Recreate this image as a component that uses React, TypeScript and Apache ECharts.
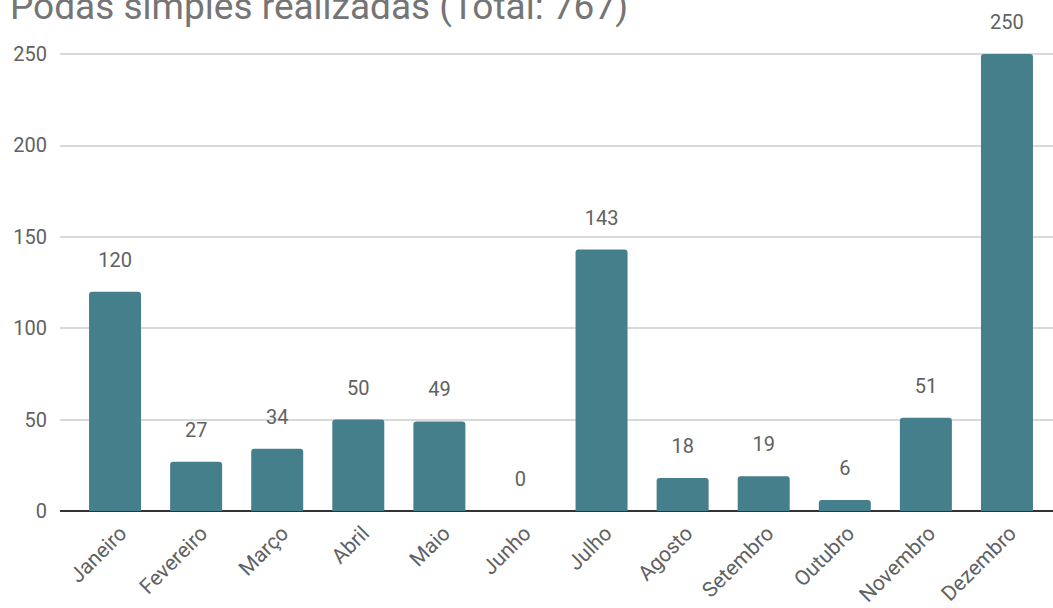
import React, { useEffect, useRef } from "react";
import * as echarts from "echarts";

const TITLE = "Podas simples realizadas (Total: 767)";
const months = [
  "Janeiro", "Fevereiro", "Março", "Abril", "Maio", "Junho",
  "Julho", "Agosto", "Setembro", "Outubro", "Novembro", "Dezembro",
];
const podas = [120, 27, 34, 50, 49, 0, 143, 18, 19, 6, 51, 250];
const yMin = 0;
const yMax = 250;
const yInterval = 50;

const FONT = "Roboto, 'Noto Sans', sans-serif";

export default function App() {
  const ref = useRef<HTMLDivElement>(null);
  useEffect(() => {
    if (!ref.current) return;
    const chart = echarts.init(ref.current, null, { renderer: "svg" });
    const top = 54;
    const bottom = 608 - 511;
    const labelShift = 8;
    chart.setOption({
      animation: false,
      backgroundColor: "#ffffff",
      textStyle: { fontFamily: FONT },
      graphic: [
        {
          type: "text",
          left: 10,
          top: -12,
          style: {
            text: TITLE,
            font: `37px ${FONT}`,
            fill: "#757575",
          },
        },
      ],
      grid: [
        { left: 60, right: 0, top, bottom, containLabel: false },
        { left: 74.5, right: 5.5, top, bottom, containLabel: false },
        {
          left: 74.5 + labelShift,
          right: 5.5 - labelShift,
          top,
          bottom,
          containLabel: false,
        },
      ],
      xAxis: [
        {
          type: "value",
          gridIndex: 0,
          show: false,
          min: 0,
          max: 1,
        },
        {
          type: "category",
          gridIndex: 1,
          data: months,
          axisLine: { show: false },
          axisTick: { show: false },
          axisLabel: { show: false },
        },
        {
          type: "category",
          gridIndex: 2,
          data: months,
          axisLine: { show: false },
          axisTick: { show: false },
          axisLabel: {
            interval: 0,
            rotate: 45,
            margin: 19,
            fontSize: 21,
            color: "#616161",
            fontFamily: FONT,
          },
        },
      ],
      yAxis: [
        {
          type: "value",
          gridIndex: 0,
          min: yMin,
          max: yMax,
          interval: yInterval,
          axisLine: { show: false },
          axisTick: { show: false },
          axisLabel: {
            margin: 13,
            fontSize: 20,
            color: "#616161",
            fontFamily: FONT,
          },
          splitLine: { lineStyle: { color: "#cccccc", width: 1.5 } },
        },
        {
          type: "value",
          gridIndex: 1,
          min: yMin,
          max: yMax,
          interval: yInterval,
          show: false,
          splitLine: { show: false },
        },
        {
          type: "value",
          gridIndex: 2,
          min: yMin,
          max: yMax,
          interval: yInterval,
          show: false,
          splitLine: { show: false },
        },
      ],
      series: [
        {
          type: "line",
          xAxisIndex: 0,
          yAxisIndex: 0,
          data: [
            [0, 0],
            [1, 0],
          ],
          symbol: "none",
          lineStyle: { color: "#333333", width: 2 },
          silent: true,
          z: 1,
        },
        {
          type: "bar",
          xAxisIndex: 1,
          yAxisIndex: 1,
          data: podas,
          barWidth: 52,
          itemStyle: { color: "#467f8c", borderRadius: [3, 3, 0, 0] },
          label: {
            show: true,
            position: "top",
            distance: 22,
            fontSize: 20,
            color: "#616161",
            fontFamily: FONT,
          },
          z: 3,
        },
      ],
    });
    return () => chart.dispose();
  }, []);
  return (
    <div
      ref={ref}
      style={{ position: "fixed", left: 0, top: 0, width: 1053, height: 608 }}
    />
  );
}
